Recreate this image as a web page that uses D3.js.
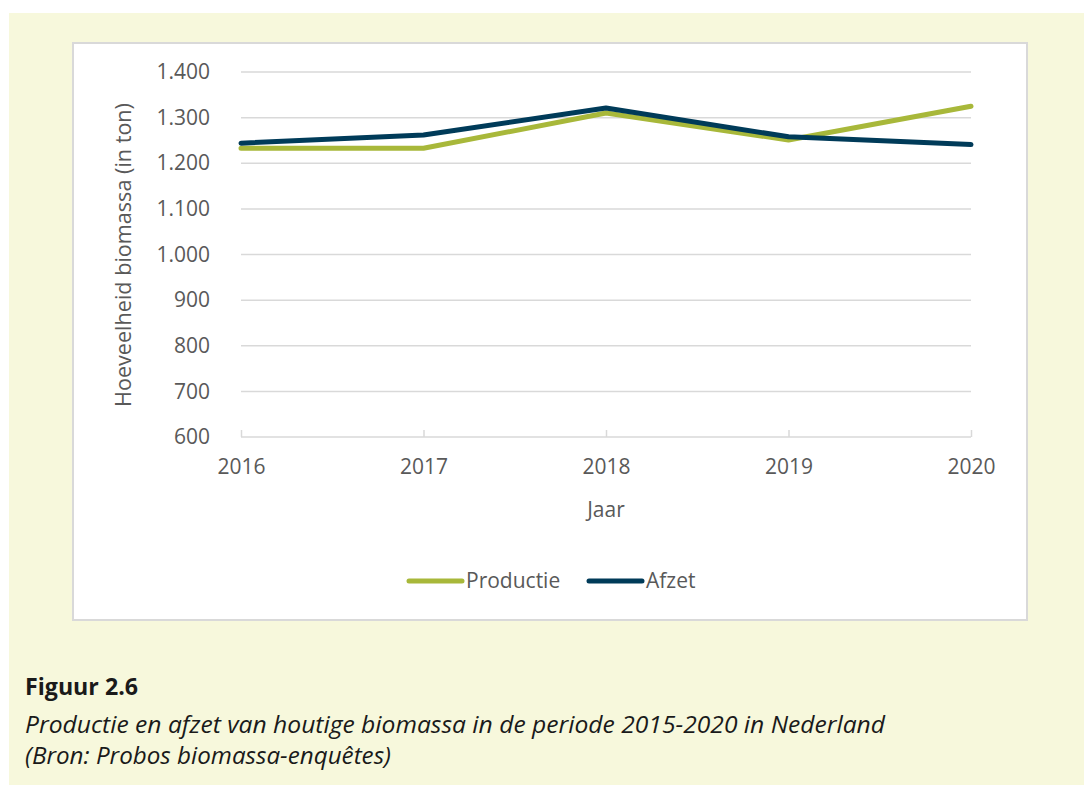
<!DOCTYPE html>
<html>
<head>
<meta charset="utf-8">
<script src="https://cdn.jsdelivr.net/npm/d3@7"></script>
<style>
  body { margin: 0; background: #fff; }
  svg text { font-family: "Open Sans", sans-serif; }
</style>
</head>
<body>
<div id="chart"></div>
<script>
// data
var years = ["2016", "2017", "2018", "2019", "2020"];
var productie = [1233, 1233, 1310, 1251, 1325];
var afzet = [1244, 1262, 1321, 1258, 1241];
var yTicks = [600, 700, 800, 900, 1000, 1100, 1200, 1300, 1400];
var seriesNames = ["Productie", "Afzet"];
var seriesColors = ["#a8b83a", "#003b59"];

var W = 1084, H = 785;
var svg = d3.select("#chart").append("svg")
    .attr("width", W)
    .attr("height", H);

// yellow panel + white chart box
svg.append("rect").attr("x", 9).attr("y", 13).attr("width", W - 9).attr("height", H - 13)
    .attr("fill", "#f7f8dc");
svg.append("rect").attr("x", 73).attr("y", 43).attr("width", 954).attr("height", 577)
    .attr("fill", "#fff").attr("stroke", "#d9d9d9").attr("stroke-width", 2);

var x = d3.scalePoint().domain(years).range([241, 971]);
var y = d3.scaleLinear().domain([600, 1400]).range([437, 72]);

var fmt = function(d) { return d3.format(",")(d).replace(/,/g, "."); };

// gridlines
svg.append("g")
    .selectAll("line")
    .data(yTicks.slice(1))
    .enter().append("line")
    .attr("x1", 241).attr("x2", 971)
    .attr("y1", function(d) { return y(d); })
    .attr("y2", function(d) { return y(d); })
    .attr("stroke", "#d9d9d9").attr("stroke-width", 1.5);

// y axis labels
var yAxis = svg.append("g")
    .attr("transform", "translate(241,0)")
    .call(d3.axisLeft(y).tickValues(yTicks).tickSize(0).tickPadding(31).tickFormat(fmt));
yAxis.select(".domain").remove();
yAxis.selectAll("text").attr("font-size", 21).attr("fill", "#595959")
    .style("font-family", "'Open Sans', sans-serif");

// x axis
var xAxis = svg.append("g")
    .attr("transform", "translate(0,437)")
    .call(d3.axisBottom(x).tickSize(-7).tickPadding(22).tickSizeOuter(0));
xAxis.select(".domain").attr("stroke", "#d9d9d9").attr("stroke-width", 1.5)
    .attr("d", "M241,0H971");
xAxis.selectAll(".tick line").attr("stroke", "#d9d9d9").attr("stroke-width", 1.5);
xAxis.selectAll("text").attr("font-size", 21).attr("fill", "#595959")
    .style("font-family", "'Open Sans', sans-serif");

// axis titles
svg.append("text")
    .attr("transform", "translate(131,255) rotate(-90)")
    .attr("text-anchor", "middle")
    .attr("font-size", 21).attr("fill", "#595959")
    .attr("textLength", 304).attr("lengthAdjust", "spacingAndGlyphs")
    .text("Hoeveelheid biomassa (in ton)");
svg.append("text")
    .attr("x", 606).attr("y", 517)
    .attr("text-anchor", "middle")
    .attr("font-size", 21).attr("fill", "#595959")
    .text("Jaar");

// lines
var line = d3.line()
    .x(function(d, i) { return x(years[i]); })
    .y(function(d) { return y(d); });

[productie, afzet].forEach(function(s, i) {
    svg.append("path")
        .datum(s)
        .attr("d", line)
        .attr("fill", "none")
        .attr("stroke", seriesColors[i])
        .attr("stroke-width", 5)
        .attr("stroke-linejoin", "round")
        .attr("stroke-linecap", "round");
});

// legend
var legX = [409, 589];
seriesNames.forEach(function(name, i) {
    svg.append("line")
        .attr("x1", legX[i]).attr("x2", legX[i] + 53)
        .attr("y1", 581).attr("y2", 581)
        .attr("stroke", seriesColors[i]).attr("stroke-width", 5)
        .attr("stroke-linecap", "round");
    svg.append("text")
        .attr("x", legX[i] + 57).attr("y", 588)
        .attr("font-size", 21).attr("fill", "#595959")
        .text(name);
});

// caption
svg.append("text")
    .attr("x", 25).attr("y", 695)
    .attr("font-size", 24).attr("font-weight", "bold").attr("fill", "#1a1a1a")
    .attr("textLength", 113).attr("lengthAdjust", "spacingAndGlyphs")
    .text("Figuur 2.6");
svg.append("text")
    .attr("x", 25).attr("y", 733)
    .attr("font-size", 24).attr("font-style", "italic").attr("fill", "#1a1a1a")
    .attr("textLength", 860).attr("lengthAdjust", "spacingAndGlyphs")
    .text("Productie en afzet van houtige biomassa in de periode 2015-2020 in Nederland");
svg.append("text")
    .attr("x", 25).attr("y", 764)
    .attr("font-size", 24).attr("font-style", "italic").attr("fill", "#1a1a1a")
    .attr("textLength", 366).attr("lengthAdjust", "spacingAndGlyphs")
    .text("(Bron: Probos biomassa-enquêtes)");
</script>
</body>
</html>
